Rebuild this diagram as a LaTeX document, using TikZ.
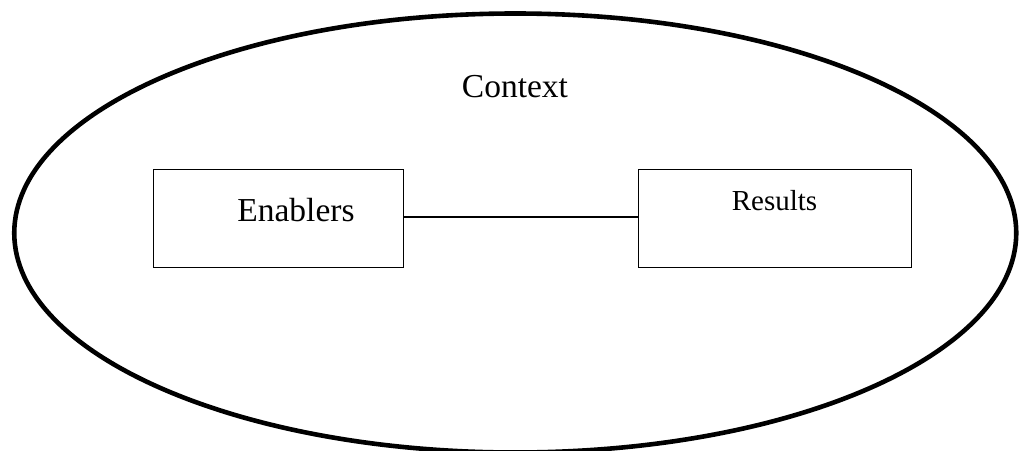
\documentclass[tikz,border=0pt]{standalone}
\usepackage{fontspec}
\setmainfont{Liberation Serif}
\begin{document}
\begin{tikzpicture}[x=1pt,y=-1pt,
  boxnode/.style={draw, line width=1pt, rectangle, inner sep=0pt},
  bigtext/.style={anchor=base, inner sep=0pt, font=\fontsize{33.5}{40}\selectfont},
  smalltext/.style={anchor=base, inner sep=0pt, font=\fontsize{29}{35}\selectfont}]
  \useasboundingbox (0,0) rectangle (1019,450);
  % context boundary
  \draw[line width=4.6pt] (515.25,233) ellipse [x radius=501, y radius=219.5];
  \node[bigtext] (ctx) at (515,97) {Context};
  % the two boxes
  \node[boxnode, minimum width=250pt, minimum height=98pt] (en) at (278,218) {};
  \node[boxnode, minimum width=273pt, minimum height=98pt] (res) at (774.5,218) {};
  \node[bigtext] (enl) at (296,221) {Enablers};
  \node[smalltext] (resl) at (774.5,210) {Results};
  % link between them
  \draw[line width=1.3pt] (en.east |- 0,217) -- (res.west |- 0,217);
\end{tikzpicture}
\end{document}
